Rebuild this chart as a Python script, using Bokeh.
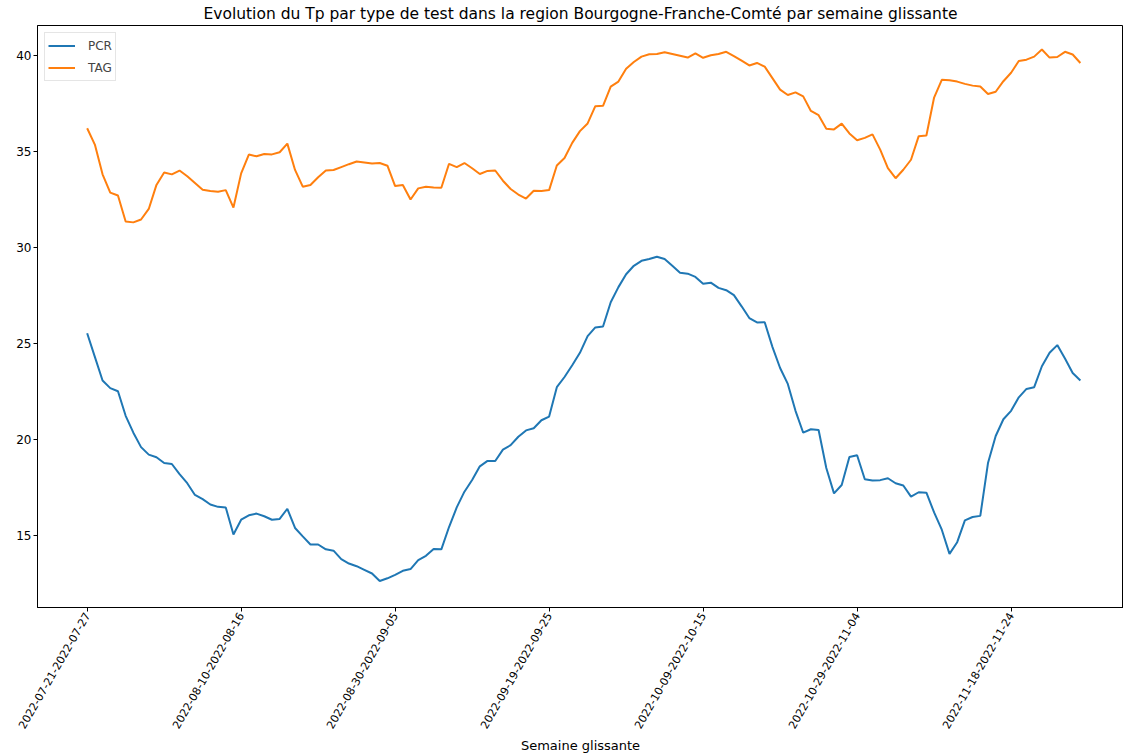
import math
import pandas as pd
from bokeh.plotting import figure
from bokeh.models import FixedTicker, Range1d, Legend, LegendItem, ColumnDataSource
from bokeh.embed import file_html
from bokeh.resources import INLINE

# Sliding weeks (start day .. start day + 6)
start_dates = pd.date_range("2022-07-21", periods=130, freq="D")
weeks = [f"{d:%Y-%m-%d}-{(d + pd.Timedelta(days=6)):%Y-%m-%d}" for d in start_dates]

pcr = [25.53, 24.3, 23.07, 22.67, 22.51, 21.23, 20.35, 19.6, 19.21, 19.07,
       18.77, 18.72, 18.19, 17.72, 17.11, 16.89, 16.61, 16.49, 16.46, 15.05,
       15.82, 16.05, 16.14, 16.0, 15.82, 15.86, 16.39, 15.39, 14.95, 14.53,
       14.53, 14.28, 14.21, 13.77, 13.54, 13.4, 13.21, 13.02, 12.63, 12.77,
       12.95, 13.16, 13.25, 13.72, 13.94, 14.3, 14.28, 15.44, 16.46, 17.28,
       17.89, 18.6, 18.88, 18.88, 19.47, 19.7, 20.14, 20.47, 20.58, 21.0,
       21.19, 22.72, 23.25, 23.86, 24.51, 25.38, 25.83, 25.88, 27.14, 27.93,
       28.6, 29.04, 29.3, 29.39, 29.51, 29.39, 29.04, 28.68, 28.63, 28.46,
       28.1, 28.16, 27.89, 27.77, 27.51, 26.93, 26.32, 26.09, 26.1, 24.82,
       23.72, 22.89, 21.49, 20.35, 20.53, 20.49, 18.51, 17.19, 17.63, 19.09,
       19.18, 17.93, 17.86, 17.88, 17.98, 17.72, 17.6, 17.02, 17.25, 17.23,
       16.2, 15.3, 14.04, 14.65, 15.79, 15.96, 16.02, 18.77, 20.18, 21.05,
       21.49, 22.19, 22.63, 22.72, 23.81, 24.51, 24.91, 24.21, 23.46, 23.07]

tag = [36.2, 35.35, 33.8, 32.85, 32.7, 31.35, 31.3, 31.45, 32.0, 33.25,
       33.9, 33.8, 34.0, 33.7, 33.35, 33.0, 32.93, 32.9, 32.98, 32.07,
       33.85, 34.83, 34.74, 34.86, 34.84, 34.95, 35.4, 34.03, 33.16, 33.25,
       33.65, 34.0, 34.03, 34.18, 34.33, 34.47, 34.42, 34.37, 34.39, 34.25,
       33.19, 33.25, 32.49, 33.07, 33.16, 33.12, 33.1, 34.35, 34.18, 34.39,
       34.12, 33.82, 33.98, 34.0, 33.47, 33.04, 32.75, 32.54, 32.95, 32.93,
       32.98, 34.26, 34.65, 35.44, 36.05, 36.45, 37.35, 37.37, 38.37, 38.63,
       39.3, 39.65, 39.93, 40.05, 40.07, 40.16, 40.07, 39.98, 39.88, 40.1,
       39.87, 40.0, 40.07, 40.18, 39.96, 39.72, 39.47, 39.6, 39.41, 38.81,
       38.21, 37.93, 38.07, 37.86, 37.1, 36.88, 36.18, 36.14, 36.44, 35.93,
       35.58, 35.7, 35.88, 35.09, 34.12, 33.6, 34.04, 34.56, 35.79, 35.82,
       37.8, 38.72, 38.7, 38.63, 38.51, 38.42, 38.37, 37.98, 38.1, 38.65,
       39.09, 39.7, 39.77, 39.93, 40.3, 39.88, 39.91, 40.18, 40.04, 39.6]

tick_positions = [0, 20, 40, 60, 80, 100, 120]
y_ticks = [15, 20, 25, 30, 35, 40]

source = ColumnDataSource(dict(x=list(range(len(weeks))), week=weeks, pcr=pcr, tag=tag))

FONT = "DejaVu Sans"

p = figure(width=1123, height=755, output_backend="svg", toolbar_location=None,
           title="Evolution du Tp par type de test dans la region Bourgogne-Franche-Comté par semaine glissante",
           x_range=Range1d(-6.45, 134.6), y_range=Range1d(11.25, 41.55),
           min_border_left=37, min_border_right=0, min_border_top=0, min_border_bottom=0)

p.title.align = "center"
p.title.text_font = FONT
p.title.text_font_size = "15.5px"
p.title.text_font_style = "normal"
p.title.text_color = "black"
p.title.standoff = 5

r1 = p.line("x", "pcr", source=source, line_color="#1f77b4", line_width=2)
r2 = p.line("x", "tag", source=source, line_color="#ff7f0e", line_width=2)

p.xgrid.visible = False
p.ygrid.visible = False
p.outline_line_color = "black"
p.outline_line_width = 1
p.outline_line_alpha = 1

p.xaxis.ticker = FixedTicker(ticks=tick_positions)
p.xaxis.major_label_overrides = {t: weeks[t] for t in tick_positions}
p.xaxis.major_label_orientation = math.radians(60)
p.yaxis.ticker = FixedTicker(ticks=y_ticks)
p.xaxis.axis_label = "Semaine glissante"

for ax in (p.xaxis[0], p.yaxis[0]):
    ax.major_label_text_font = FONT
    ax.major_label_text_color = "black"
    ax.axis_line_color = "black"
    ax.major_tick_line_color = "black"
    ax.major_tick_out = 4
    ax.major_tick_in = 0
    ax.minor_tick_line_color = None
    ax.axis_label_text_font = FONT
    ax.axis_label_text_font_size = "13px"
    ax.axis_label_text_font_style = "normal"
    ax.axis_label_text_color = "black"
    ax.axis_label_standoff = 3
    ax.major_label_standoff = 2

p.xaxis.major_label_text_font_size = "11px"
p.yaxis.major_label_text_font_size = "12px"

legend = Legend(items=[LegendItem(label="PCR", renderers=[r1]),
                       LegendItem(label="TAG", renderers=[r2])],
                location="top_left")
legend.label_text_font = FONT
legend.label_text_font_size = "12px"
legend.glyph_width = 27
legend.glyph_height = 19
legend.label_height = 19
legend.label_standoff = 13
legend.padding = 3
legend.spacing = 3
legend.margin = 7
legend.border_line_color = "#cccccc"
legend.border_line_width = 1
legend.background_fill_alpha = 0.8
p.add_layout(legend)

open("out.html", "w").write(file_html(p, INLINE))
